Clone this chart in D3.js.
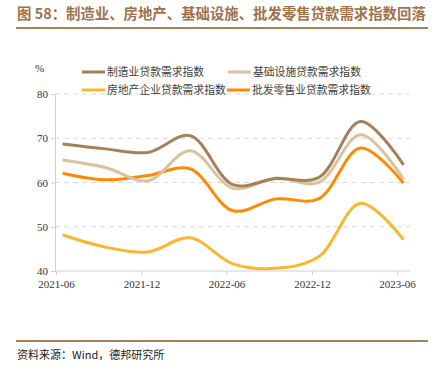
<!DOCTYPE html>
<html>
<head>
<meta charset="utf-8">
<script src="https://cdn.jsdelivr.net/npm/d3@7"></script>
<style>
  html, body { margin: 0; padding: 0; background: #fff; }
  svg { display: block; font-family: "Liberation Serif", "Noto Sans CJK SC", serif; }
</style>
</head>
<body>
<svg id="chart" width="435" height="382"></svg>
<script>
// quarterly survey dates (mid-month of quarter end)
const dates = ["2021-06-15", "2021-09-15", "2021-12-15", "2022-03-15", "2022-06-15",
               "2022-09-15", "2022-12-15", "2023-03-15", "2023-06-15"];
const manufacturing = [68.7, 67.6, 66.8, 70.6, 59.5, 60.9, 61.1, 73.8, 64.0];
const infrastructure = [65.1, 63.4, 60.4, 67.2, 58.7, 61.0, 60.0, 70.8, 60.8];
const realEstate = [48.2, 45.4, 44.3, 47.5, 41.6, 40.6, 43.2, 55.3, 47.1];
const retail = [62.1, 60.6, 61.6, 63.1, 53.6, 56.3, 56.3, 67.8, 59.9];
const xTickLabels = ["2021-06", "2021-12", "2022-06", "2022-12", "2023-06"];
const yTicks = [40, 50, 60, 70, 80];

const seriesList = [
    { name: "制造业贷款需求指数", values: manufacturing, color: "#a5805a" },
    { name: "基础设施贷款需求指数", values: infrastructure, color: "#d8c39e" },
    { name: "房地产企业贷款需求指数", values: realEstate, color: "#f8b72f" },
    { name: "批发零售业贷款需求指数", values: retail, color: "#ff8a00" }
];

const parse = d3.timeParse("%Y-%m-%d");
const svg = d3.select("#chart");

// title + rules
svg.append("text")
    .attr("x", 17).attr("y", 19)
    .attr("fill", "#a0714a")
    .attr("font-family", "'Noto Sans CJK SC', sans-serif")
    .attr("font-weight", "bold")
    .attr("font-size", 14.4)
    .text("图 58：制造业、房地产、基础设施、批发零售贷款需求指数回落");
svg.append("line").attr("x1", 16).attr("x2", 428).attr("y1", 28).attr("y2", 28)
    .attr("stroke", "#a5805a").attr("stroke-width", 2);
svg.append("line").attr("x1", 16).attr("x2", 428).attr("y1", 341).attr("y2", 341)
    .attr("stroke", "#a5805a").attr("stroke-width", 2);
svg.append("text")
    .attr("x", 17).attr("y", 359)
    .attr("fill", "#222")
    .attr("font-family", "'Noto Sans CJK SC', sans-serif")
    .attr("font-size", 11)
    .text("资料来源：Wind，德邦研究所");

// plot area
const plotLeft = 55, plotRight = 410, plotTop = 94, plotBottom = 271;
const x = d3.scaleTime()
    .domain([parse("2021-06-01"), parse("2023-06-01")])
    .range([56, 397]);
const y = d3.scaleLinear().domain([40, 80]).range([plotBottom, plotTop]);

const g = svg.append("g");

// grid
g.selectAll(".grid").data(yTicks.filter(t => t > 40)).join("line")
    .attr("x1", plotLeft).attr("x2", plotRight)
    .attr("y1", d => y(d)).attr("y2", d => y(d))
    .attr("stroke", "#d9d9d9").attr("stroke-dasharray", "5,4");

// y axis
const yAxis = g.append("g").attr("transform", `translate(${plotLeft},0)`)
    .call(d3.axisLeft(y).tickValues(yTicks).tickSize(4).tickPadding(3));
yAxis.select(".domain").attr("stroke", "#d0d0d0");
yAxis.selectAll(".tick line").attr("stroke", "#d0d0d0");
yAxis.selectAll("text").attr("font-size", 11).attr("fill", "#333")
    .attr("font-family", "'Liberation Serif', serif");

// x axis
const xAxis = g.append("g").attr("transform", `translate(0,${plotBottom})`)
    .call(d3.axisBottom(x)
        .tickValues(xTickLabels.map(s => parse(s + "-01")))
        .tickFormat(d3.timeFormat("%Y-%m"))
        .tickSize(4).tickPadding(5).tickSizeOuter(0));
xAxis.select(".domain").attr("d", `M${plotLeft},0H${plotRight}`).attr("stroke", "#d0d0d0");
xAxis.selectAll(".tick line").attr("stroke", "#d0d0d0");
xAxis.selectAll("text").attr("font-size", 11).attr("fill", "#333")
    .attr("font-family", "'Liberation Serif', serif");

svg.append("text").attr("x", 35).attr("y", 72)
    .attr("font-size", 11).attr("fill", "#333").text("%");

// lines
const line = d3.line()
    .x((d, i) => x(parse(dates[i])))
    .y(d => y(d))
    .curve(d3.curveCatmullRom.alpha(0.5));

const drawOrder = [seriesList[2], seriesList[3], seriesList[1], seriesList[0]];
g.selectAll(".series").data(drawOrder).join("path")
    .attr("fill", "none")
    .attr("stroke", d => d.color)
    .attr("stroke-width", 3)
    .attr("stroke-linejoin", "round")
    .attr("d", d => line(d.values));

// legend
const legendPos = [[82, 72], [228, 72], [82, 90], [227, 90]];
const lg = svg.append("g");
seriesList.forEach((s, i) => {
    const [lx, ly] = legendPos[i];
    lg.append("line").attr("x1", lx).attr("x2", lx + 23).attr("y1", ly).attr("y2", ly)
        .attr("stroke", s.color).attr("stroke-width", 3);
    lg.append("text").attr("x", lx + 25).attr("y", ly + 4)
        .attr("font-family", "'Noto Sans CJK SC', sans-serif")
        .attr("font-size", 10.8).attr("fill", "#404040").text(s.name);
});
</script>
</body>
</html>
